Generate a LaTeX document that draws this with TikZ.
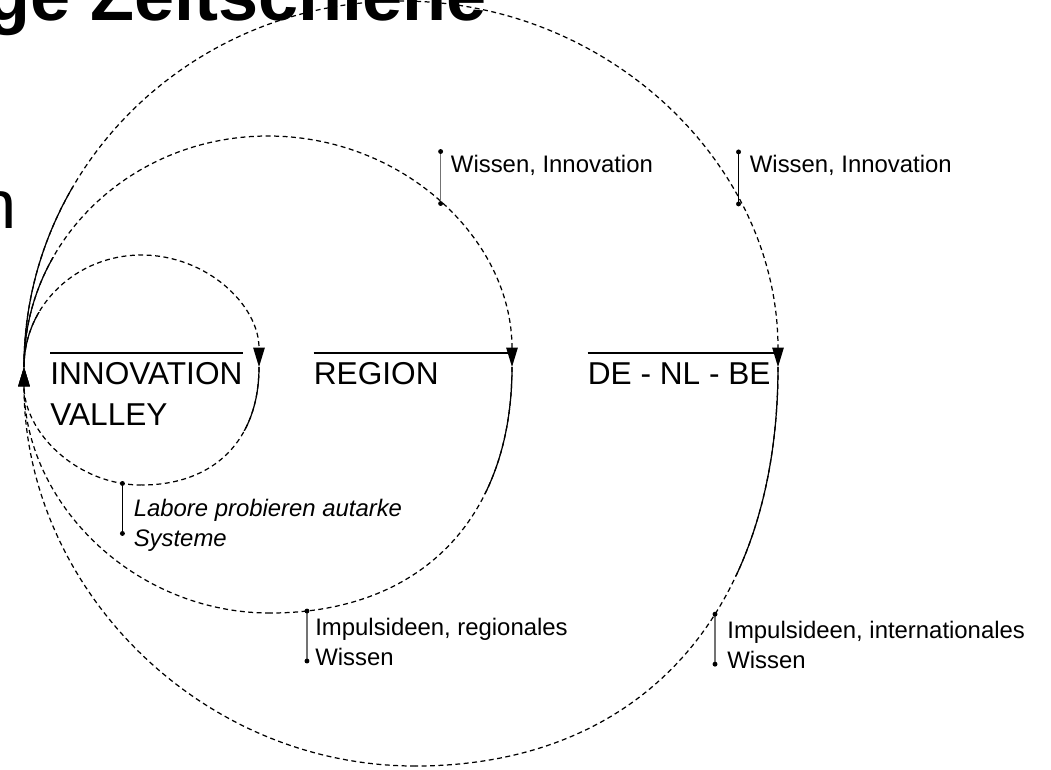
\documentclass[tikz,border=0pt]{standalone}
\usepackage{fontspec}
\setmainfont{Liberation Sans}
\usetikzlibrary{arrows.meta,positioning}

\tikzset{
  ring/.style={line width=0.7pt, dash pattern=on 2.8pt off 2pt},
  full/.style={line width=0.7pt},
  arr/.style={-{Triangle[length=11pt,width=6.5pt]}},
  over/.style={line width=1.4pt},
  bar/.style={line width=0.75pt},
  big/.style={font=\fontsize{18}{23}\selectfont, inner sep=0pt, align=left},
  lbl/.style={font=\fontsize{13.6}{17}\selectfont, inner sep=0pt, align=left},
}

\begin{document}
\begin{tikzpicture}[x=0.02cm, y=-0.02cm]

\clip (0,0) rectangle (1051,769);

% cut off headings
\node[anchor=base east, inner sep=0pt, font=\fontsize{41}{41}\selectfont\bfseries] (title) at (487,20) {ge Zeitschiene};
\node[anchor=base east, inner sep=0pt, font=\fontsize{39}{40}\selectfont] (sub) at (17,228) {n};

\coordinate (P) at (24,367);

\coordinate (T1) at (141.5,255);
\coordinate (R1) at (259,367);
\coordinate (B1) at (141.5,485);

\coordinate (T2) at (268,136);
\coordinate (R2) at (512,367);
\coordinate (B2) at (270,613);

\coordinate (T3) at (401,1);
\coordinate (R3) at (778,367);
\coordinate (B3) at (415,766);

% loops
\draw[ring, arr] (P) .. controls +(0,-62) and +(-65,0) .. (T1) .. controls +(65,0) and +(0,-62) .. (R1);
\draw[ring] (R1) .. controls +(0,73) and +(73,0) .. (B1);
\draw[ring, arr] (B1) .. controls +(-65,0) and +(0,65) .. coordinate[pos=0.1] (d1) (P);

\draw[ring, arr] (P) .. controls +(0,-128) and +(-135,0) .. (T2) .. controls +(135,0) and +(0,-128) .. coordinate[pos=0.5] (w1) (R2);
\draw[ring] (R2) .. controls +(0,152.5) and +(150,0) .. coordinate[pos=0.915] (d2) (B2);
\draw[ring, arr] (B2) .. controls +(-136,0) and +(0,136) .. (P);

\draw[ring, arr] (P) .. controls +(0,-202) and +(-208,0) .. (T3) .. controls +(208,0) and +(0,-202) .. coordinate[pos=0.71] (w2) (R3);
\draw[ring] (R3) .. controls +(0,247) and +(225,0) .. coordinate[pos=0.4] (d3) (B3);
\draw[ring, arr] (B3) .. controls +(-216,0) and +(0,220) .. (P);

% solid parts
\begin{scope}
\clip (0,312) rectangle (141,368);
\draw[full] (P) .. controls +(0,-62) and +(-65,0) .. (T1);
\end{scope}
\begin{scope}
\clip (0,257) rectangle (268,368);
\draw[full] (P) .. controls +(0,-128) and +(-135,0) .. (T2);
\end{scope}
\begin{scope}
\clip (0,187) rectangle (401,368);
\draw[full] (P) .. controls +(0,-202) and +(-208,0) .. (T3);
\end{scope}
\begin{scope}
\clip (141,366) rectangle (300,430);
\draw[full] (R1) .. controls +(0,73) and +(73,0) .. (B1);
\end{scope}
\begin{scope}
\clip (268,366) rectangle (560,493);
\draw[full] (R2) .. controls +(0,152.5) and +(150,0) .. (B2);
\end{scope}
\begin{scope}
\clip (401,366) rectangle (800,575);
\draw[full] (R3) .. controls +(0,247) and +(225,0) .. (B3);
\end{scope}

% region names
\coordinate (ov) at (0,353);
\node[big, anchor=base west] (iv) at (50,425) {INNOVATION\\VALLEY};
\node[big, anchor=base west] (rg) at (313.5,384) {REGION};
\node[big, anchor=base west] (dnb) at (587.5,384) {DE - NL - BE};

\draw[over] (iv.west |- ov) -- (iv.east |- ov);
\draw[over] (rg.west |- ov) -- (R2 |- ov);
\draw[over] (dnb.west |- ov) -- (R3 |- ov);

% labels
\draw[bar, black!55] (w1) -- ++(0,-52) coordinate (w1t);
\fill (w1) circle (1.4pt) (w1t) circle (1.4pt);
\node[lbl, anchor=base west] (wi1) at ([shift={(10,21)}]w1t) {Wissen, Innovation};

\draw[bar] (w2) -- ++(0,-52) coordinate (w2t);
\fill (w2) circle (1.4pt) (w2t) circle (1.4pt);
\node[lbl, anchor=base west] (wi2) at ([shift={(11,21)}]w2t) {Wissen, Innovation};

\draw[bar] (d1) -- ++(0,50) coordinate (d1b);
\fill (d1) circle (1.4pt) (d1b) circle (1.4pt);
\node[lbl, font=\fontsize{13.6}{17}\selectfont\itshape, anchor=base west] (lab) at ([shift={(11,63)}]d1) {Labore probieren autarke\\Systeme};

\draw[bar, black!55] (d2) -- ++(0,50) coordinate (d2b);
\fill (d2) circle (1.4pt) (d2b) circle (1.4pt);
\node[lbl, anchor=base west] (imp1) at ([shift={(8,54)}]d2) {Impulsideen, regionales\\Wissen};

\draw[bar, black!55] (d3) -- ++(0,50) coordinate (d3b);
\fill (d3) circle (1.4pt) (d3b) circle (1.4pt);
\node[lbl, anchor=base west] (imp2) at ([shift={(12,54)}]d3) {Impulsideen, internationales\\Wissen};

\end{tikzpicture}
\end{document}
